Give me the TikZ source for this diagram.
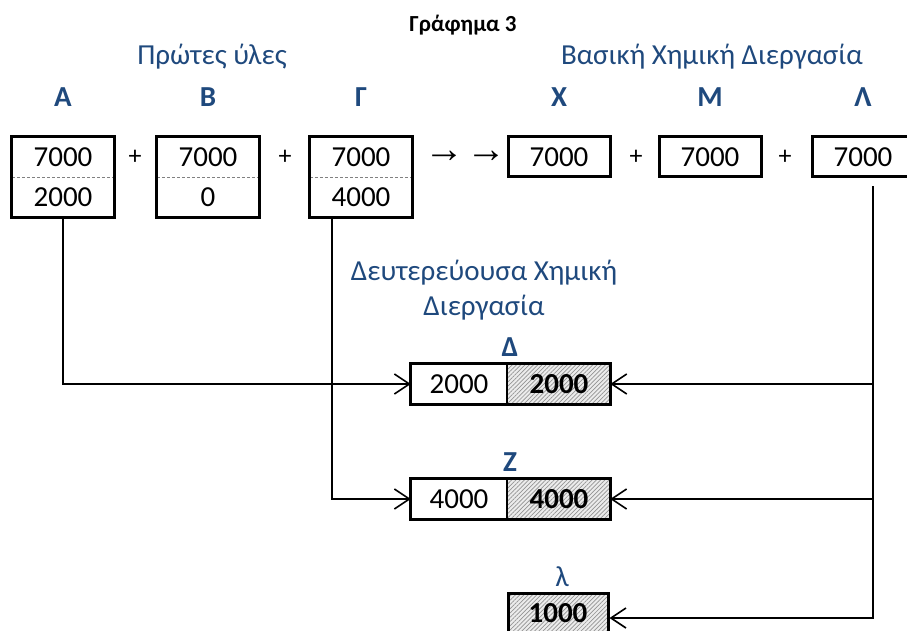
\documentclass[tikz,border=0pt]{standalone}
\usepackage{fontspec}
\setmainfont{Carlito}
\newfontfamily\arrowfont{Liberation Sans}
\usetikzlibrary{arrows.meta, positioning, patterns.meta}
\definecolor{hBlue}{HTML}{1F497D}
\definecolor{hInk}{HTML}{000000}

\tikzset{
  cell/.style={font=\fontsize{29}{32}\selectfont, inner sep=0pt,
               minimum width=102pt, minimum height=40pt},
  boxline/.style={line width=3pt, draw=hInk},
  divider/.style={densely dashed, line width=0.8pt, gray},
  hatchcell/.style={cell, preaction={fill=gray!15},
                    pattern={Lines[angle=45, distance=3pt, line width=0.7pt]},
                    pattern color=gray!85},
  heading/.style={font=\fontsize{29}{35}\selectfont, text=hBlue, align=center},
  letter/.style={font=\fontsize{29}{32}\selectfont\bfseries, text=hBlue},
  conn/.style={line width=1.6pt, hInk},
}

\begin{document}
\begin{tikzpicture}[x=1pt, y=-1pt, >={Straight Barb[length=15pt, width=20pt]}]
  \useasboundingbox (0,0) rectangle (907,631);
  \clip (0,0) rectangle (907,631);
  % titles
  \node[font=\fontsize{23}{26}\selectfont\bfseries] (title) at (463,25) {Γράφημα 3};
  \node[heading] (raw) at (212,57) {Πρώτες ύλες};
  \node[heading] (main) at (712,57) {Βασική Χημική Διεργασία};
  \node[heading] (second) at (484,290) {Δευτερεύουσα Χημική\\Διεργασία};
  % raw materials, two cells each
  \foreach \name/\xc/\lbl/\up/\lo in {A/63/Α/7000/2000, B/208/Β/7000/0, G/361/Γ/7000/4000} {
    \node[letter] at (\xc,97) {\lbl};
    \node[cell] (\name1) at (\xc,157) {\up};
    \node[cell] (\name2) at (\xc,197) {\lo};
    \draw[divider] (\name1.south west) -- (\name1.south east);
    \draw[boxline] (\name1.north west) rectangle (\name2.south east);
  }
  % products of the main process
  \foreach \name/\xc/\lbl in {X/559/Χ, M/710/Μ, L/863/Λ} {
    \node[letter] at (\xc,97) {\lbl};
    \node[cell, boxline] (\name) at (\xc,157) {7000};
  }
  \foreach \xp in {135, 285, 636, 785}
    \node[font=\fontsize{26}{28}\selectfont] at (\xp,157) {+};
  \node[font=\arrowfont\fontsize{40}{44}\selectfont] (go) at (465,157) {→\kern2pt→};
  % secondary process
  \node[letter] at (510,347) {Δ};
  \node[cell, minimum width=96pt] (D1) at (459,384) {2000};
  \node[hatchcell, minimum width=102pt] (D2) at (559,384) {\textbf{2000}};
  \draw[boxline] (D1.north west) rectangle (D2.south east);
  \draw[line width=2pt] (D1.north east) -- (D1.south east);
  \node[letter] at (510,462) {Ζ};
  \node[cell, minimum width=96pt] (Z1) at (459,499) {4000};
  \node[hatchcell, minimum width=102pt] (Z2) at (559,499) {\textbf{4000}};
  \draw[boxline] (Z1.north west) rectangle (Z2.south east);
  \draw[line width=2pt] (Z1.north east) -- (Z1.south east);
  \node[letter, font=\fontsize{29}{32}\selectfont] at (562,577) {λ};
  \node[hatchcell, boxline, minimum width=100pt, minimum height=40pt] (lam) at (558,613) {\textbf{1000}};
  % connectors
  \draw[conn, ->] (A2.south) |- (D1.west);
  \draw[conn, ->] ([xshift=-29pt]G2.south) |- (Z1.west);
  \coordinate (Ldrop) at ([xshift=10pt, yshift=-8pt]L.south);
  \draw[conn, ->] (Ldrop) |- (D2.east);
  \draw[conn, ->] (Ldrop |- D2.east) |- (Z2.east);
  \draw[conn, ->] (Ldrop |- Z2.east) |- ([yshift=-5pt]lam.east);
\end{tikzpicture}
\end{document}
